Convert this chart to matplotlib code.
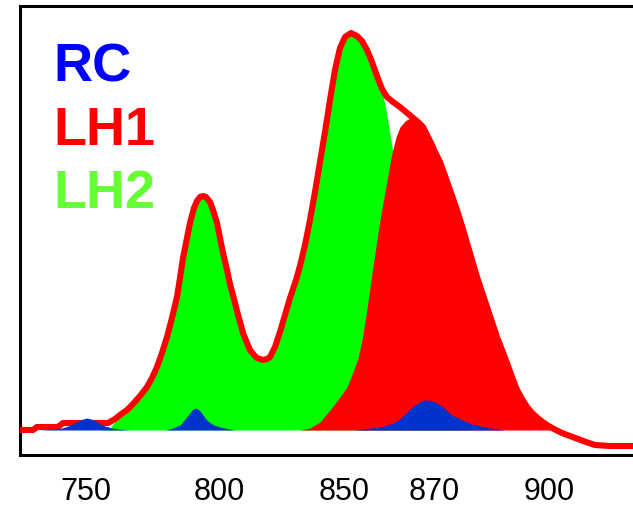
import matplotlib
matplotlib.use("Agg")
import matplotlib.pyplot as plt

# ---- data (position units along the axis, intensity in arbitrary units) ----
total_x = [20, 33, 37, 58, 63, 108, 115, 120, 127, 133, 140, 147, 152, 157, 162, 167, 172, 177,
           180, 183, 187, 190, 194, 197, 200, 203, 206, 210, 213, 217, 220, 223, 227, 230, 234,
           237, 240, 243, 247, 250, 254, 257, 263, 267, 270, 275, 280, 285, 290, 296, 300, 305,
           310, 315, 320, 325, 330, 335, 340, 345, 351, 357, 362, 367, 372, 377, 382, 387, 393,
           400, 406, 412, 418, 423, 427, 431, 435, 440, 444, 450, 457, 462, 467, 472, 477, 482,
           487, 492, 497, 502, 507, 512, 517, 522, 527, 533, 540, 547, 554, 562, 570, 578, 586,
           595, 610, 633]
total_y = [0, 0, 3, 3, 7, 7, 11, 15, 20, 26, 34, 43, 52, 63, 77, 93, 112, 133,
           152, 172, 192, 207, 222, 229, 233, 234, 233, 228, 220, 207, 192, 177, 160, 146, 131,
           119, 108, 97, 87, 80, 75, 72, 70, 71, 73, 83, 98, 115, 132, 150, 164, 185,
           210, 238, 268, 298, 330, 360, 382, 393, 397, 394, 389, 380, 368, 354, 341, 333, 328,
           323, 318, 313, 308, 303, 295, 287, 278, 268, 257, 240, 220, 204, 187, 170, 153, 138,
           123, 108, 93, 80, 67, 53, 40, 31, 23, 16, 10, 5, 1, -3, -6, -9, -12,
           -15, -16, -16]

lh2_x = [100, 110, 115, 120, 127, 133, 140, 147, 152, 157, 162, 167, 172, 177, 180, 183, 187,
         190, 194, 197, 200, 203, 206, 210, 213, 217, 220, 223, 227, 230, 234, 237, 240, 243,
         247, 250, 254, 257, 263, 267, 270, 275, 280, 285, 290, 296, 300, 305, 310, 315, 320,
         325, 330, 335, 340, 345, 351, 357, 362, 367, 372, 377, 380, 383, 386, 388, 391, 395,
         400, 408, 416, 425, 435, 445, 455, 470]
lh2_y = [0, 2, 9, 15, 20, 26, 34, 43, 52, 63, 77, 93, 112, 133, 152, 172, 192,
         207, 222, 229, 233, 234, 233, 228, 220, 207, 192, 177, 160, 146, 131, 119, 108, 97,
         87, 80, 75, 72, 70, 71, 73, 83, 98, 115, 132, 150, 164, 185, 210, 238, 268,
         298, 330, 360, 382, 393, 397, 394, 389, 380, 368, 354, 346, 335, 320, 308, 290, 265,
         230, 170, 110, 60, 25, 8, 2, 0]

lh1_x = [300, 310, 320, 330, 340, 347, 353, 358, 362, 366, 370, 375, 380, 386, 392, 396, 400,
         405, 410, 415, 420, 423, 427, 431, 435, 440, 444, 450, 457, 462, 467, 472, 477, 482,
         487, 492, 497, 502, 507, 512, 517, 522, 527, 533, 540, 547, 554, 560]
lh1_y = [0, 2, 8, 20, 33, 43, 58, 72, 90, 115, 143, 177, 210, 244, 277, 293, 303,
         309, 312, 311, 307, 303, 295, 287, 278, 268, 257, 240, 220, 204, 187, 170, 153, 138,
         123, 108, 93, 80, 67, 53, 40, 31, 23, 16, 10, 5, 1, 0]

rc_x = [40, 47, 55, 62, 68, 73, 78, 83, 87, 91, 96, 100, 105, 112, 118, 123, 130,
        165, 170, 175, 180, 185, 189, 192, 195, 198, 201, 205, 209, 214, 220, 227, 235,
        355, 362, 370, 380, 388, 395, 400, 405, 410, 415, 420, 424, 428, 432, 437, 443,
        448, 452, 458, 465, 472, 480, 490, 498, 505]
rc_y = [0, 0.5, 1, 2, 4, 6, 9, 11, 12, 11, 9, 6, 4, 2, 1, 0.5, 0,
        0, 1, 3, 5, 11, 16, 20, 22, 21, 18, 12, 8, 5, 3, 1.5, 0,
        0, 1, 2, 3, 5, 8, 11, 16, 21, 25, 28, 30, 30, 29, 27, 23,
        18, 15, 12, 9, 6, 4, 2, 1, 0]

tick_pos = [86, 219, 344, 434, 549]
tick_labels = ["750", "800", "850", "870", "900"]

series_names = ["RC", "LH1", "LH2"]
series_colors = ["#0000FF", "#FF0000", "#66FF33"]

# ---- figure ----
W, H, DPI = 633, 508, 100
fig = plt.figure(figsize=(W / DPI, H / DPI), dpi=DPI)
fig.patch.set_facecolor("white")
ax = fig.add_axes([20 / W, 1 - 455 / H, 1 - 20 / W, (455 - 6) / H])

ax.fill_between(lh2_x, 0, lh2_y, color="#00FF00", linewidth=0, zorder=2)
ax.fill_between(lh1_x, 0, lh1_y, color="#FF0000", linewidth=0, zorder=3)
ax.plot(total_x, total_y, color="#FF0000", linewidth=4.4, solid_joinstyle="round",
        solid_capstyle="butt", zorder=4)
ax.fill_between(rc_x, 0, rc_y, color="#0033CC", linewidth=0, zorder=5)

ax.set_xlim(20, 633)
ax.set_ylim(-25, 424)

ax.set_yticks([])
ax.set_xticks(tick_pos)
ax.set_xticklabels(tick_labels, fontfamily="Liberation Sans", fontsize=22)
ax.tick_params(axis="x", length=0, pad=15.5)

for side in ["left", "top", "bottom"]:
    ax.spines[side].set_linewidth(2.2)
    ax.spines[side].set_color("black")
ax.spines["right"].set_visible(False)

baselines = [82, 145, 208]
for name, col, yb in zip(series_names, series_colors, baselines):
    fig.text(53 / W, 1 - yb / H, name, color=col, fontsize=39, fontweight="bold",
             fontfamily="Liberation Sans", ha="left", va="baseline")

fig.savefig("out.png", dpi=DPI, facecolor="white")
